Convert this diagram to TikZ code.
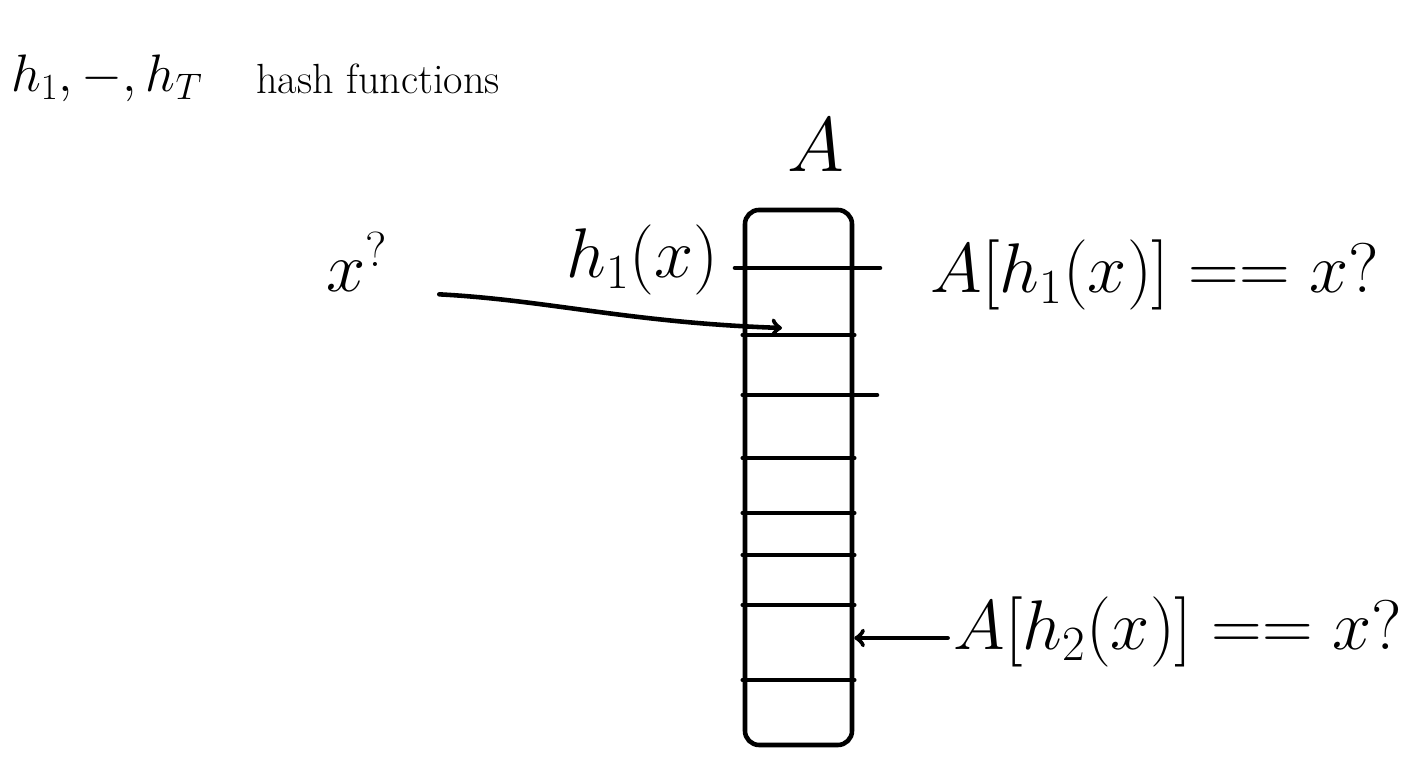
\RequirePackage{fix-cm}
\documentclass[tikz,border=0pt]{standalone}
\usepackage{amsmath, amssymb}
\usetikzlibrary{positioning}

\tikzset{
  ink/.style={line width=2.6pt, line cap=round, line join=round},
  lbl/.style={font=\fontsize{40}{48}\selectfont},
  head/.style={font=\fontsize{30}{36}\selectfont},
}

\begin{document}
\begin{tikzpicture}[scale=1]

\useasboundingbox (0,0) rectangle (28.42,15.28);

% the table A
\node[ink, draw, rounded corners=8pt, minimum width=2.14cm, minimum height=10.7cm] (arr) at (15.97,5.73) {};

\foreach \y in {8.58,6.12,5.02,4.18,3.18,1.68}
\draw[ink] (arr.west |- 0,\y) -- (arr.east |- 0,\y);

\draw[ink] (14.7,9.92) -- (17.6,9.92);
\draw[ink] (arr.west |- 0,7.38) -- (17.54,7.38);

% labels
\node[head, anchor=base west] (hlist) at (0.1,13.45) {$h_1, -, h_T$};
\node[head, anchor=base west, font=\fontsize{24}{29}\selectfont] (hashf) at (5.0,13.4) {hash functions};
\node[lbl, above=0.6cm of arr, xshift=0.35cm, font=\fontsize{44}{52}\selectfont] (aname) {$A$};

\node[lbl, anchor=base] (xq) at (7.15,9.44) {$x^?$};
\node[lbl, anchor=base east] (hone) at (14.5,9.72) {$h_1(x)$};

\node[lbl, anchor=base] (qone) at (23.1,9.42) {$A[h_1(x)] == x?$};
\node[lbl, anchor=base] (qtwo) at (23.56,2.28) {$A[h_2(x)] == x?$};

% lookups
\coordinate (slot) at (15.64,8.72);
\coordinate (qtwoin) at ([yshift=0.24cm]qtwo.base west);
\draw[ink, ->, shorten <=0.9cm] (xq.base east) to[out=-3, in=178] (slot);
\draw[ink, ->] (qtwoin) -- (arr.east |- qtwoin);

\end{tikzpicture}
\end{document}
